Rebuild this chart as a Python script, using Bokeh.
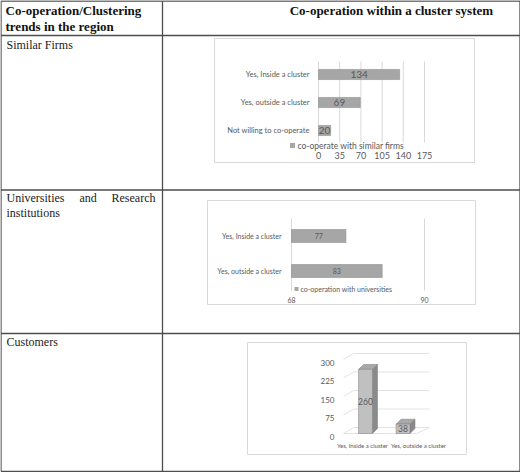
from bokeh.plotting import figure
from bokeh.models import Range1d
from bokeh.core.properties import value
from bokeh.embed import file_html
from bokeh.resources import INLINE

# ---------------- data ----------------
header_left = ["Co-operation/Clustering", "trends in the region"]
header_right = "Co-operation within a cluster system"
row_titles = ["Similar Firms", "Universities and Research institutions", "Customers"]

firm_cats = ["Yes, Inside a cluster", "Yes, outside a cluster", "Not willing to co-operate"]
firm_vals = [134, 69, 20]
firm_ticks = [0, 35, 70, 105, 140, 175]
firm_legend = "co-operate with similar firms"

uni_cats = ["Yes, Inside a cluster", "Yes, outside a cluster"]
uni_vals = [77, 83]
uni_ticks = [68, 90]
uni_legend = "co-operation with universities"

cust_cats = ["Yes, Inside a cluster", "Yes, outside a cluster"]
cust_vals = [260, 38]
cust_ticks = [0, 75, 150, 225, 300]

# ---------------- canvas ----------------
W, H = 520, 472
p = figure(width=W, height=H, x_range=Range1d(0, W), y_range=Range1d(H, 0),
           x_axis_type=None, y_axis_type=None, toolbar_location=None,
           output_backend="svg", min_border=0)
p.outline_line_color = None
p.xgrid.visible = False
p.ygrid.visible = False
p.background_fill_color = "white"


def xr(v0, p0, v1, p1):
    k = (v1 - v0) / (p1 - p0)
    return Range1d(start=v0 - p0 * k, end=v0 + (W - p0) * k)


def yr(v0, p0, v1, p1):
    k = (v1 - v0) / (p1 - p0)
    return Range1d(start=v0 + (H - p0) * k, end=v0 - p0 * k)


p.extra_x_ranges = {
    "c1x": xr(0, 318, 175, 424),
    "c2x": xr(68, 291, 90, 424),
    "c3x": xr(0, 365, 1, 402.5),
}
p.extra_y_ranges = {
    "c1y": yr(0, 74, 1, 102),
    "c2y": yr(0, 235.5, 1, 270.5),
    "c3y": yr(0, 433, 300, 359),
}

SERIF = value("Liberation Serif")
SANS = value("Lato")
TXT = "#595959"
GRID = "#d9d9d9"
BAR = "#a6a6a6"
BAR_LINE = "#8f8f8f"

# ---------------- table ----------------
LC = "#4d4d4d"
p.segment(x0=[0.5, 519.5, 0.5, 0.5, 0.5, 0.5, 0.5, 162],
          y0=[0.5, 0.5, 0.5, 35, 189.5, 333, 471, 0.5],
          x1=[0.5, 519.5, 519.5, 519.5, 519.5, 519.5, 519.5, 162],
          y1=[471, 471, 0.5, 35, 189.5, 333, 471, 471],
          line_color=LC, line_width=1.3)

p.text(x=[5, 5], y=[10, 25.5], text=header_left, text_font=SERIF, text_font_style="bold",
       text_font_size="13px", text_color="#111111", text_baseline="middle", text_align="left")
p.text(x=[391], y=[10], text=[header_right], text_font=SERIF, text_font_style="bold",
       text_font_size="13px", text_color="#111111", text_baseline="middle", text_align="center")
p.text(x=[6], y=[44], text=[row_titles[0]], text_font=SERIF, text_font_size="12px",
       text_color="#222222", text_baseline="middle", text_align="left")
w2 = row_titles[1].split(" ")
p.text(x=[6, 79, 155], y=[197, 197, 197], text=w2[:3], text_font=SERIF, text_font_size="12px",
       text_color="#222222", text_baseline="middle", text_align=["left", "left", "right"])
p.text(x=[6], y=[212], text=[w2[3]], text_font=SERIF, text_font_size="12px",
       text_color="#222222", text_baseline="middle", text_align="left")
p.text(x=[6], y=[341], text=[row_titles[2]], text_font=SERIF, text_font_size="12px",
       text_color="#222222", text_baseline="middle", text_align="left")

# chart boxes
p.quad(left=[214, 207, 247], right=[474, 475, 466], top=[38, 200, 342], bottom=[162, 304, 454],
       fill_color="white", line_color=GRID, line_width=1)

# ---------------- chart 1: similar firms ----------------
idx1 = list(range(len(firm_cats)))
p.segment(x0=firm_ticks, x1=firm_ticks, y0=[61] * len(firm_ticks), y1=[142] * len(firm_ticks),
          x_range_name="c1x", line_color=GRID, line_width=1)
p.hbar(y=idx1, height=0.36, left=0, right=firm_vals, x_range_name="c1x", y_range_name="c1y",
       fill_color=BAR, line_color=BAR_LINE, line_width=0.6)
p.text(x=[v / 2 for v in firm_vals], y=idx1, text=[str(v) for v in firm_vals],
       x_range_name="c1x", y_range_name="c1y", text_font=SANS, text_font_size="10px",
       text_color=TXT, text_align="center", text_baseline="middle")
p.text(x=[309] * len(firm_cats), y=idx1, text=firm_cats, y_range_name="c1y",
       text_font=SANS, text_font_size="7.5px", text_color=TXT,
       text_align="right", text_baseline="middle")
p.scatter(x=[292], y=[145], marker="square", size=5, fill_color=BAR, line_color=None)
p.text(x=[297], y=[145], text=[firm_legend], text_font=SANS, text_font_size="8.5px",
       text_color=TXT, text_align="left", text_baseline="middle")
p.text(x=firm_ticks, y=[155] * len(firm_ticks), text=[str(t) for t in firm_ticks],
       x_range_name="c1x", text_font=SANS, text_font_size="9px", text_color=TXT,
       text_align="center", text_baseline="middle")

# ---------------- chart 2: universities ----------------
idx2 = list(range(len(uni_cats)))
p.segment(x0=uni_ticks, x1=uni_ticks, y0=[218] * len(uni_ticks), y1=[290] * len(uni_ticks),
          x_range_name="c2x", line_color=GRID, line_width=1)
p.hbar(y=idx2, height=0.37, left=uni_ticks[0], right=uni_vals, x_range_name="c2x",
       y_range_name="c2y", fill_color=BAR, line_color=BAR_LINE, line_width=0.6)
p.text(x=[(uni_ticks[0] + v) / 2 for v in uni_vals], y=idx2, text=[str(v) for v in uni_vals],
       x_range_name="c2x", y_range_name="c2y", text_font=SANS, text_font_size="7px",
       text_color=TXT, text_align="center", text_baseline="middle")
p.text(x=[281] * len(uni_cats), y=idx2, text=uni_cats, y_range_name="c2y",
       text_font=SANS, text_font_size="7px", text_color=TXT,
       text_align="right", text_baseline="middle")
p.scatter(x=[296], y=[288.5], marker="square", size=4, fill_color=BAR, line_color=None)
p.text(x=[300], y=[288.5], text=[uni_legend], text_font=SANS, text_font_size="7px",
       text_color=TXT, text_align="left", text_baseline="middle")
p.text(x=uni_ticks, y=[299] * len(uni_ticks), text=[str(t) for t in uni_ticks],
       x_range_name="c2x", text_font=SANS, text_font_size="7px", text_color=TXT,
       text_align="center", text_baseline="middle")

# ---------------- chart 3: customers (3D column) ----------------
depth_back = 24.3  # value-units of back-wall offset
# back wall gridlines
p.segment(x0=[353] * len(cust_ticks), x1=[429] * len(cust_ticks),
          y0=[t + depth_back for t in cust_ticks], y1=[t + depth_back for t in cust_ticks],
          y_range_name="c3y", line_color="#e3e3e3", line_width=1)
# side wall slants
p.segment(x0=[343] * len(cust_ticks), x1=[353] * len(cust_ticks),
          y0=cust_ticks, y1=[t + depth_back for t in cust_ticks],
          y_range_name="c3y", line_color="#e3e3e3", line_width=1)
# floor
p.line(x=[343, 416, 429], y=[0, 0, depth_back], y_range_name="c3y",
       line_color="#e3e3e3", line_width=1)

bw = 0.37
dx = 0.135
dy = 20.0
for i, v in enumerate(cust_vals):
    l, r = i - bw / 2, i + bw / 2
    # side face
    p.patch(x=[r, r + dx, r + dx, r], y=[0, dy, v + dy, v], x_range_name="c3x",
            y_range_name="c3y", fill_color="#8a8a8a", line_color="#7a7a7a", line_width=0.5)
    # top face
    p.patch(x=[l, l + dx, r + dx, r], y=[v, v + dy, v + dy, v], x_range_name="c3x",
            y_range_name="c3y", fill_color="#a8a8a8", line_color="#7a7a7a", line_width=0.5)
    # front face
    p.quad(left=[l], right=[r], bottom=[0], top=[v], x_range_name="c3x", y_range_name="c3y",
           fill_color="#c0c0c0", line_color="#7a7a7a", line_width=0.5)

idx3 = list(range(len(cust_cats)))
p.text(x=idx3, y=[v / 2 for v in cust_vals], text=[str(v) for v in cust_vals],
       x_range_name="c3x", y_range_name="c3y", text_font=SANS, text_font_size="8.5px",
       text_color=TXT, text_align="center", text_baseline="middle")
p.text(x=[334] * len(cust_ticks), y=cust_ticks, y_offset=3, text=[str(t) for t in cust_ticks],
       y_range_name="c3y", text_font=SANS, text_font_size="8px", text_color=TXT,
       text_align="right", text_baseline="middle")
p.text(x=[362 + 56 * i for i in idx3], y=[445] * len(cust_cats), text=cust_cats,
       text_font=SANS, text_font_size="6px", text_color=TXT,
       text_align="center", text_baseline="middle")

open("out.html", "w").write(file_html(p, INLINE))
